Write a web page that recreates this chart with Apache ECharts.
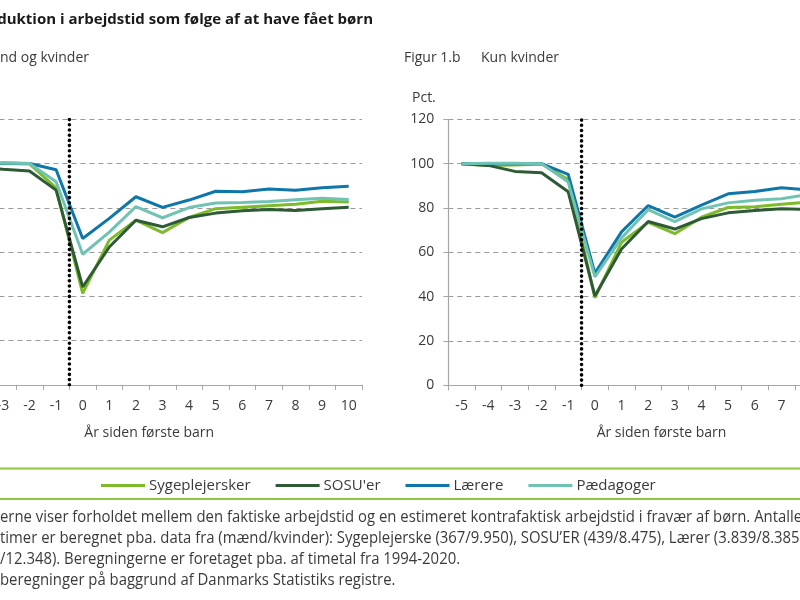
<!DOCTYPE html>
<html><head><meta charset="utf-8">
<script src="https://cdn.jsdelivr.net/npm/echarts@6/dist/echarts.min.js"></script>
<style>html,body{margin:0;padding:0;background:#fff}#c{width:800px;height:600px}</style>
</head><body><div id="c"></div><script>
// Categories: years since first child
var cats = ['-5','-4','-3','-2','-1','0','1','2','3','4','5','6','7','8','9','10'];
var seriesNames = ['Sygeplejersker', "SOSU'er", 'Lærere', 'Pædagoger'];

// Figur 1.a  Mænd og kvinder
var sygA  = [100, 100, 100, 99.8, 89.0, 41.3, 65.4, 74.4, 68.8, 75.6, 79.6, 80.2, 80.9, 81.6, 83.0, 82.6];
var sosuA = [100, 98.3, 97.4, 96.6, 88.0, 44.2, 62.3, 74.4, 71.4, 75.6, 77.6, 78.7, 79.2, 78.8, 79.6, 80.2];
var laerA = [100, 100, 100.2, 100, 97.2, 66.1, 75.2, 85.0, 80.2, 83.5, 87.5, 87.3, 88.5, 87.9, 89.1, 89.7];
var paedA = [100, 100.2, 100.3, 100, 91.8, 59.0, 69.0, 80.5, 75.5, 80.1, 82.2, 82.4, 82.9, 83.6, 84.3, 83.7];

// Figur 1.b  Kun kvinder
var sygB  = [100, 99.2, 99.4, 99.8, 92.8, 39.5, 64.5, 73.5, 68.4, 75.8, 80.2, 80.6, 81.7, 82.7, 83.2, 83.5];
var sosuB = [100, 99.2, 96.5, 95.9, 87.3, 40.3, 61.5, 73.9, 70.5, 75.2, 77.8, 78.9, 79.6, 79.3, 79.8, 80.2];
var laerB = [100, 100, 100, 100, 95.2, 50.5, 69.2, 81.1, 75.9, 81.3, 86.4, 87.4, 89.1, 88.1, 88.9, 89.4];
var paedB = [100, 100.2, 100.2, 100, 91.7, 48.9, 66.5, 79.2, 73.8, 79.6, 82.3, 83.5, 84.2, 86.1, 86.2, 86.0];

// Position of the dotted "birth" marker (between -1 and 0)
var markerX = [-0.5, -0.5];
var markerY = [0, 120];

var colors = ['#7dbb2b', '#2e5b35', '#0e76a8', '#70c3b3'];
var txt = '#3a3a3a';
var openS = '"Open Sans",sans-serif';

var chart = echarts.init(document.getElementById('c'), null, {renderer: 'canvas'});

function lineSeries(name, data, color, gi) {
  return {name: name, type: 'line', xAxisIndex: gi, yAxisIndex: gi, data: data,
    symbol: 'none', showSymbol: false, animation: false,
    lineStyle: {width: 3, color: color}, itemStyle: {color: color},
    emphasis: {disabled: true}};
}
function markerSeries(gi) {
  var d = markerX.map(function (x, i) { return [x, markerY[i]]; });
  return {type: 'line', xAxisIndex: gi + 2, yAxisIndex: gi, data: d, symbol: 'none',
    animation: false, silent: true, z: 10,
    lineStyle: {color: '#000', width: 3.6, type: [0, 5.2], cap: 'round'}};
}
function catAxis(gi) {
  return {type: 'category', gridIndex: gi, data: cats, boundaryGap: true,
    axisLine: {onZero: false, lineStyle: {color: '#a6a6a6', width: 1.2}},
    axisTick: {show: true, length: 5, interval: 0, lineStyle: {color: '#a6a6a6'}},
    axisLabel: {interval: 0, margin: 14, fontSize: 14, color: txt, fontFamily: openS},
    name: 'År siden første barn', nameLocation: 'middle', nameGap: 41,
    nameTextStyle: {fontSize: 14, color: txt, fontFamily: openS},
    splitLine: {show: false}};
}
function valXAxis(gi) {
  return {type: 'value', gridIndex: gi, min: -5.5, max: 10.5, show: false};
}
function yAxis(gi) {
  return {type: 'value', gridIndex: gi, min: 0, max: 120, interval: 20,
    axisLine: {show: true, onZero: false, lineStyle: {color: '#a6a6a6', width: 1.2}},
    axisTick: {show: true, length: 5, lineStyle: {color: '#a6a6a6'}},
    axisLabel: {margin: 14, fontSize: 14, color: txt, fontFamily: openS},
    splitLine: {show: true, lineStyle: {color: '#9a9a9a', width: 1.2, type: [5, 4]}}};
}

var series = [];
[[sygA, sosuA, laerA, paedA], [sygB, sosuB, laerB, paedB]].forEach(function (set, gi) {
  set.forEach(function (d, i) { series.push(lineSeries(seriesNames[i], d, colors[i], gi)); });
  series.push(markerSeries(gi));
});

var notes = [
  'erne viser forholdet mellem den faktiske arbejdstid og en estimeret kontrafaktisk arbejdstid i fravær af børn. Antallet',
  'timer er beregnet pba. data fra (mænd/kvinder): Sygeplejerske (367/9.950), SOSU\u2019ER (439/8.475), Lærer (3.839/8.385)',
  '/12.348). Beregningerne er foretaget pba. af timetal fra 1994-2020.',
  'beregninger på baggrund af Danmarks Statistiks registre.'
];

var graphics = [
  {type: 'text', x: 373, y: 20, style: {text: 'Reduktion i arbejdstid som følge af at have fået børn', align: 'right', verticalAlign: 'middle', font: 'bold 15px ' + openS, fill: '#1a1a1a'}},
  {type: 'text', x: 89, y: 58, style: {text: 'Figur 1.a    Mænd og kvinder', align: 'right', verticalAlign: 'middle', font: '14px ' + openS, fill: txt}},
  {type: 'text', x: 404, y: 58, style: {text: 'Figur 1.b', align: 'left', verticalAlign: 'middle', font: '14px ' + openS, fill: txt}},
  {type: 'text', x: 481, y: 58, style: {text: 'Kun kvinder', align: 'left', verticalAlign: 'middle', font: '14px ' + openS, fill: txt}},
  {type: 'text', x: 412, y: 98, style: {text: 'Pct.', align: 'left', verticalAlign: 'middle', font: '14px ' + openS, fill: txt}},
  {type: 'line', shape: {x1: 0, y1: 468.5, x2: 800, y2: 468.5}, style: {stroke: '#8dc63f', lineWidth: 2}},
  {type: 'line', shape: {x1: 0, y1: 499, x2: 800, y2: 499}, style: {stroke: '#8dc63f', lineWidth: 2}}
];
notes.forEach(function (t, i) {
  graphics.push({type: 'text', x: 0, y: 517 + i * 21.3, scaleX: 0.93,
    style: {text: t, align: 'left', verticalAlign: 'middle', font: '16px ' + openS, fill: txt}});
});

chart.setOption({
  animation: false,
  backgroundColor: '#fff',
  grid: [
    {left: -63.6, top: 119.3, width: 425.6, height: 265.5, containLabel: false, outerBoundsMode: 'none'},
    {left: 448.3, top: 119.3, width: 426.4, height: 266, containLabel: false, outerBoundsMode: 'none'}
  ],
  xAxis: [catAxis(0), catAxis(1), valXAxis(0), valXAxis(1)],
  yAxis: [yAxis(0), yAxis(1)],
  legend: {data: seriesNames, left: 96, top: 473, icon: 'rect', itemWidth: 44, itemHeight: 3,
    itemGap: 25, selectedMode: false,
    textStyle: {fontSize: 15, color: txt, fontFamily: openS, padding: [0, 0, 0, -1]}},
  graphic: graphics,
  series: series
});
</script></body></html>
